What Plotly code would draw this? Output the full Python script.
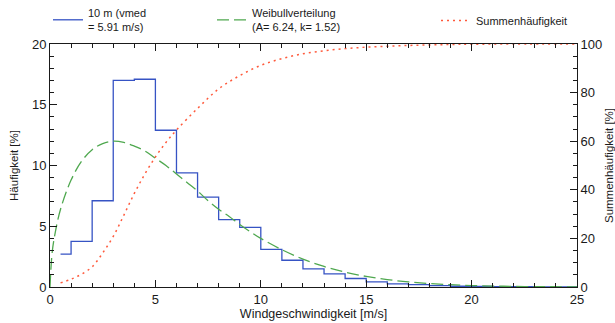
import plotly.graph_objects as go

# Histogram (bin edges and frequencies in %)
bin_edges = [0.5, 1, 2, 3, 4, 5, 6, 7, 8, 9, 10, 11, 12, 13, 14, 15, 16, 17, 18, 19, 20, 21, 22, 23, 24, 25]
hist_vals = [2.7, 3.75, 7.1, 17.0, 17.1, 12.9, 9.4, 7.4, 5.55, 4.9, 3.1, 2.2, 1.5, 1.08, 0.7, 0.42, 0.26, 0.2, 0.12, 0.06, 0.04, 0.03, 0.02, 0.01, 0.01]

# Weibull curve
weib_x = [0, 0.1, 0.25, 0.5, 1, 1.5, 2, 2.5, 3, 3.5, 4, 4.5, 5, 5.5, 6, 6.5, 7, 7.5, 8, 8.5, 9, 9.5, 10,
          11, 12, 13, 14, 15, 16, 17, 18, 19, 20, 21, 22, 23, 24, 25]
weib_y = [0, 2.8, 4.5, 6.4, 8.8, 10.35, 11.3, 11.8, 12.0, 11.9, 11.6, 11.2, 10.6, 10.0, 9.3, 8.6, 7.9, 7.1, 6.4, 5.8, 5.15, 4.55, 4.0,
          3.07, 2.3, 1.69, 1.22, 0.87, 0.61, 0.42, 0.28, 0.19, 0.12, 0.08, 0.05, 0.03, 0.02, 0.01]

# Cumulative frequency (right axis, %)
cum_x = [0.5, 1, 1.5, 2, 2.5, 3, 3.5, 4, 4.5, 5, 5.5, 6, 7, 8, 9, 10, 11, 12, 13, 14, 15, 16, 17, 18, 19, 20, 22, 25]
cum_y = [1.7, 3.2, 5.3, 8.3, 14, 20.8, 29.5, 38.5, 46.5, 53.5, 59.5, 64.6, 73.5, 81.5, 87, 91.2, 94, 96, 97.2, 98.1, 98.7, 99.1, 99.4, 99.6, 99.8, 99.9, 100, 100]

x_ticks = [0, 5, 10, 15, 20, 25]
y_ticks = [0, 5, 10, 15, 20]
y2_ticks = [0, 20, 40, 60, 80, 100]

BLUE = "#3653c4"
GREEN = "#4fa84f"
RED = "#ff5a3c"
FONT = "Liberation Sans, Arial, sans-serif"
INK = "#1a1a1a"

L, R, T, B = 50, 38, 44, 36
PW, PH = 615 - L - R, 323 - T - B

def px_x(px):
    return (px - L) / PW

def px_y(py):
    return (323 - B - py) / PH

fig = go.Figure()
fig.add_trace(go.Scatter(
    x=bin_edges, y=hist_vals + [hist_vals[-1]], mode="lines", line_shape="hv",
    line=dict(color=BLUE, width=1.3), name="10 m (vmed<br>= 5.91 m/s)", legend="legend"))
fig.add_trace(go.Scatter(
    x=weib_x, y=weib_y, mode="lines", line_shape="spline",
    line=dict(color=GREEN, width=1.3, dash="12px,5px"),
    name="Weibullverteilung<br>(A= 6.24, k= 1.52)", legend="legend2"))
fig.add_trace(go.Scatter(
    x=cum_x, y=cum_y, mode="lines", line_shape="spline", yaxis="y2",
    line=dict(color=RED, width=1.5, dash="2px,4px"),
    name="Summenhäufigkeit", legend="legend3"))

axis_common = dict(showline=True, linecolor=INK, linewidth=1, ticks="inside",
                   tickcolor=INK, showgrid=False, zeroline=False,
                   tickfont=dict(family=FONT, size=13, color=INK))

leg_common = dict(yanchor="top", xanchor="left", valign="middle", font=dict(size=11, color=INK),
                  bgcolor="rgba(0,0,0,0)", borderwidth=0, visible=True)

fig.update_layout(
    width=615, height=323, showlegend=True,
    margin=dict(l=L, r=R, t=T, b=B, autoexpand=False),
    paper_bgcolor="white", plot_bgcolor="white",
    font=dict(family=FONT, size=12, color=INK),
    xaxis=dict(range=[0, 25], tickvals=x_ticks, ticklen=7, mirror="ticks",
               minor=dict(dtick=1, ticklen=4, ticks="inside", tickcolor=INK),
               title=dict(text="Windgeschwindigkeit [m/s]", font=dict(size=12.5), standoff=2),
               **axis_common),
    yaxis=dict(range=[0, 20], tickvals=y_ticks, ticklen=7, mirror=True,
               minor=dict(dtick=1, ticklen=4, ticks="inside", tickcolor=INK),
               title=dict(text="Häufigkeit [%]", font=dict(size=11.5), standoff=10),
               **axis_common),
    yaxis2=dict(range=[0, 100], tickvals=y2_ticks, ticklen=7, overlaying="y", side="right",
                minor=dict(dtick=5, ticklen=4, ticks="inside", tickcolor=INK),
                title=dict(text="Summenhäufigkeit [%]", font=dict(size=11.5), standoff=4),
                **axis_common),
    legend=dict(x=px_x(48), y=px_y(-1), **leg_common),
    legend2=dict(x=px_x(212), y=px_y(-1), **leg_common),
    legend3=dict(x=px_x(436), y=px_y(6), **leg_common),
)

fig.write_html("out.html", config={"displayModeBar": False},
               post_script="document.body.style.margin='0';")
